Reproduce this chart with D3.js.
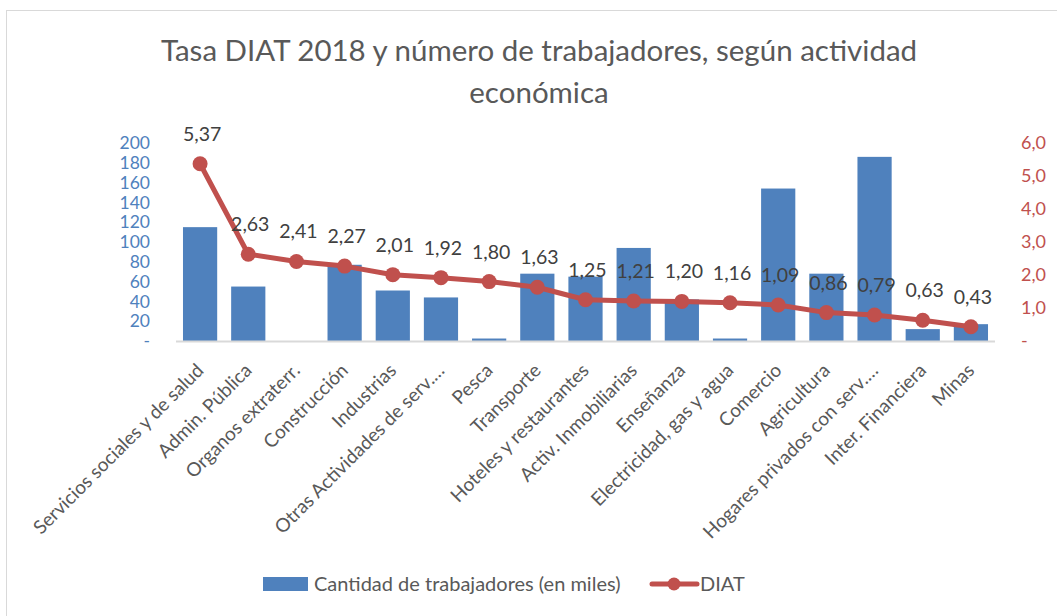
<!DOCTYPE html>
<html>
<head>
<meta charset="utf-8">
<script src="https://cdn.jsdelivr.net/npm/d3@7"></script>
<style>
  body { margin: 0; background: #fff; }
  text { font-family: Lato, "Open Sans", sans-serif; }
</style>
</head>
<body>
<div id="chart"></div>
<script>
// data
var categories = ["Servicios sociales y de salud", "Admin. Pública", "Organos extraterr.", "Construcción",
  "Industrias", "Otras Actividades de serv.…", "Pesca", "Transporte", "Hoteles y restaurantes",
  "Activ. Inmobiliarias", "Enseñanza", "Electricidad, gas y agua", "Comercio", "Agricultura",
  "Hogares privados con serv.…", "Inter. Financiera", "Minas"];
var trabajadores = [115, 55, 0, 77, 51, 44, 2.5, 68, 65, 94, 42, 2.5, 154, 68, 186, 12, 17];
var diat = [5.37, 2.63, 2.41, 2.27, 2.01, 1.92, 1.80, 1.63, 1.25, 1.21, 1.20, 1.16, 1.09, 0.86, 0.79, 0.63, 0.43];
var leftTicks = [0, 20, 40, 60, 80, 100, 120, 140, 160, 180, 200];
var rightTicks = [0, 1, 2, 3, 4, 5, 6];

var W = 1057, H = 616;
var margin = {top: 143, right: 62, bottom: 275, left: 176},
    width = 995 - margin.left,
    height = 341 - margin.top;

var blue = "#4f81bd", red = "#c0504d";
var fmt = function (v) { return v.toFixed(2).replace(".", ","); };

var root = d3.select("#chart").append("svg")
    .attr("width", W)
    .attr("height", H);

// chart frame
root.append("rect")
    .attr("x", 6.5).attr("y", 10.5)
    .attr("width", W).attr("height", H)
    .attr("fill", "none")
    .attr("stroke", "#d9d9d9");

// title
var title = root.append("text")
    .attr("text-anchor", "middle")
    .attr("fill", "#595959")
    .style("font-size", "29.5px");
title.append("tspan").attr("x", 539).attr("y", 61).text("Tasa DIAT 2018 y número de trabajadores, según actividad");
title.append("tspan").attr("x", 539).attr("y", 103).text("económica");

var svg = root.append("g")
    .attr("transform", "translate(" + margin.left + "," + margin.top + ")");

var x = d3.scaleBand()
    .domain(categories)
    .range([0, width])
    .paddingInner(0.29)
    .paddingOuter(0.145);

var y = d3.scaleLinear().domain([0, 200]).range([height, 0]);
var y2 = d3.scaleLinear().domain([0, 6]).range([height, 0]);

// left axis
var yAxis = svg.append("g")
    .call(d3.axisLeft(y).tickValues(leftTicks).tickSize(0).tickPadding(26)
      .tickFormat(function (d) { return d === 0 ? "-" : d; }));
yAxis.select(".domain").remove();
yAxis.selectAll("text").attr("fill", blue).style("font-size", "17.5px").style("font-family", "Lato, sans-serif");

// right axis
var yAxis2 = svg.append("g")
    .attr("transform", "translate(" + width + ",0)")
    .call(d3.axisRight(y2).tickValues(rightTicks).tickSize(0).tickPadding(26)
      .tickFormat(function (d) { return d === 0 ? "-" : d.toFixed(1).replace(".", ","); }));
yAxis2.select(".domain").remove();
yAxis2.selectAll("text").attr("fill", red).style("font-size", "18px").style("font-family", "Lato, sans-serif");

// bars
svg.append("g")
  .selectAll("rect")
  .data(trabajadores)
  .enter()
    .append("rect")
    .attr("x", function (d, i) { return x(categories[i]); })
    .attr("y", function (d) { return y(d); })
    .attr("width", x.bandwidth())
    .attr("height", function (d) { return height - y(d); })
    .attr("fill", blue);

// baseline
svg.append("line")
    .attr("x1", 0).attr("x2", width)
    .attr("y1", height + 0.5).attr("y2", height + 0.5)
    .attr("stroke", "#d9d9d9")
    .attr("stroke-width", 2);

// x labels
svg.append("g")
  .selectAll("text")
  .data(categories)
  .enter()
    .append("text")
    .attr("transform", function (d) {
      return "translate(" + (x(d) + x.bandwidth() / 2 - 5) + "," + (height + 21) + ") rotate(-45)";
    })
    .attr("text-anchor", "end")
    .attr("dy", "0.72em")
    .attr("fill", "#595959")
    .style("font-size", "19px")
    .text(function (d) { return d; });

// DIAT line
var cx = function (d, i) { return x(categories[i]) + x.bandwidth() / 2; };
var line = d3.line()
    .x(cx)
    .y(function (d) { return y2(d); });

svg.append("path")
    .datum(diat)
    .attr("d", line)
    .attr("fill", "none")
    .attr("stroke", red)
    .attr("stroke-width", 5)
    .attr("stroke-linejoin", "round");

svg.append("g")
  .selectAll("circle")
  .data(diat)
  .enter()
    .append("circle")
    .attr("cx", cx)
    .attr("cy", function (d) { return y2(d); })
    .attr("r", 7.5)
    .attr("fill", red);

svg.append("g")
  .selectAll("text")
  .data(diat)
  .enter()
    .append("text")
    .attr("x", function (d, i) { return cx(d, i) + 2; })
    .attr("y", function (d) { return y2(d) - 23; })
    .attr("text-anchor", "middle")
    .attr("fill", "#404040")
    .style("font-size", "19.5px")
    .text(fmt);

// legend
var lg = root.append("g");
lg.append("rect")
    .attr("x", 263).attr("y", 577)
    .attr("width", 45).attr("height", 14)
    .attr("fill", blue);
lg.append("text")
    .attr("x", 314).attr("y", 584)
    .attr("dy", "0.35em")
    .attr("fill", "#595959")
    .style("font-size", "20px")
    .text("Cantidad de trabajadores (en miles)");
lg.append("line")
    .attr("x1", 652).attr("x2", 697)
    .attr("y1", 584).attr("y2", 584)
    .attr("stroke", red)
    .attr("stroke-width", 5)
    .attr("stroke-linecap", "round");
lg.append("circle")
    .attr("cx", 674).attr("cy", 584)
    .attr("r", 6.5)
    .attr("fill", red);
lg.append("text")
    .attr("x", 700).attr("y", 584)
    .attr("dy", "0.35em")
    .attr("fill", "#595959")
    .style("font-size", "20px")
    .text("DIAT");
</script>
</body>
</html>
